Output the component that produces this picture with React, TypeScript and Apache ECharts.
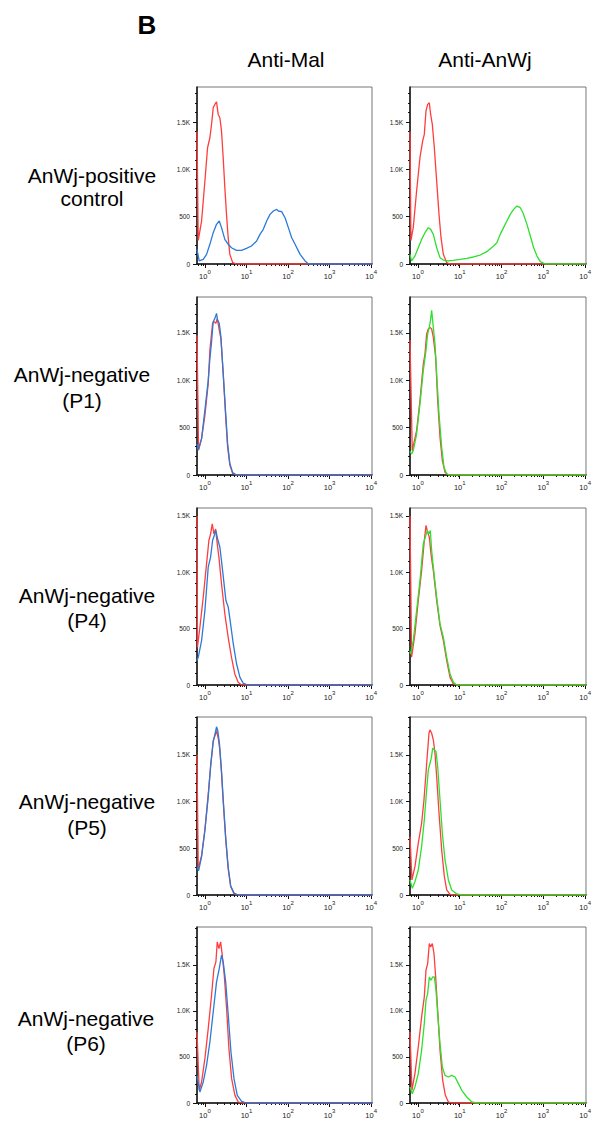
import React, { useEffect, useRef } from "react";
import * as echarts from "echarts";

// ---------- text ----------
const PANEL_LETTER = "B";
const COL_HEADERS = ["Anti-Mal", "Anti-AnWj"];
const ROW_LABELS = [
  ["AnWj-positive", "control"],
  ["AnWj-negative", "(P1)"],
  ["AnWj-negative", "(P4)"],
  ["AnWj-negative", "(P5)"],
  ["AnWj-negative", "(P6)"],
];

// ---------- axes ----------
const X_DECADES = [0, 1, 2, 3, 4]; // log10 of fluorescence intensity
const X_MIN = -0.19;
const X_MAX = 4.02;
const Y_TICKS = [0, 500, 1000, 1500];
const ROW_Y_MAX = [1870, 1880, 1570, 1905, 1910];

// ---------- data: [log10 intensity, count] ----------
// Row 1: AnWj-positive control
const r1MalIso = [[-0.19,1400],[-0.16,250],[-0.08,454],[0,876],[0.064,1228],[0.12,1334],[0.16,1475],[0.2,1650],[0.24,1686],[0.28,1714],[0.32,1580],[0.36,1545],[0.4,1404],[0.44,1123],[0.48,806],[0.52,524],[0.56,278],[0.6,102],[0.67,14],[0.76,0],[4.02,0]];
const r1MalStain = [[-0.19,155],[-0.137,32],[-0.04,49],[0.04,102],[0.12,208],[0.2,331],[0.28,419],[0.345,454],[0.4,384],[0.48,260],[0.56,208],[0.64,172],[0.76,144],[0.88,144],[1.0,165],[1.12,190],[1.245,243],[1.325,313],[1.405,366],[1.486,454],[1.566,524],[1.647,560],[1.727,577],[1.767,560],[1.847,553],[1.928,489],[2.008,384],[2.088,278],[2.169,208],[2.29,102],[2.41,32],[2.49,0],[4.02,0]];
const r1AnIso = [[-0.19,1400],[-0.168,250],[-0.112,384],[-0.032,771],[0.048,1123],[0.112,1299],[0.152,1369],[0.192,1616],[0.232,1686],[0.272,1704],[0.304,1580],[0.344,1475],[0.392,1228],[0.448,876],[0.504,524],[0.552,278],[0.608,102],[0.688,14],[0.768,0],[4.02,0]];
const r1AnStain = [[-0.19,102],[-0.152,32],[-0.072,84],[0.008,172],[0.088,260],[0.168,331],[0.248,384],[0.304,366],[0.368,313],[0.448,172],[0.528,67],[0.608,42],[0.728,32],[0.848,39],[1.008,49],[1.168,60],[1.328,74],[1.488,95],[1.648,130],[1.808,190],[1.888,225],[1.968,313],[2.048,384],[2.128,454],[2.208,524],[2.288,577],[2.368,612],[2.448,595],[2.512,542],[2.608,419],[2.688,296],[2.768,172],[2.848,84],[2.928,25],[3.048,0],[4.02,0]];

// Row 2: AnWj-negative (P1)
const r2MalIso = [[-0.19,1475],[-0.152,264],[-0.08,384],[0,630],[0.08,964],[0.12,1320],[0.185,1602],[0.225,1619],[0.265,1602],[0.297,1654],[0.345,1531],[0.385,1443],[0.44,1074],[0.5,616],[0.546,299],[0.6,106],[0.667,18],[0.763,0],[4.02,0]];
const r2MalStain = [[-0.19,330],[-0.16,264],[-0.08,384],[0,686],[0.08,1000],[0.12,1228],[0.16,1404],[0.2,1619],[0.24,1654],[0.28,1706],[0.305,1636],[0.345,1602],[0.385,1461],[0.44,1074],[0.5,651],[0.546,334],[0.6,123],[0.667,25],[0.763,0],[4.02,0]];
const r2AnIso = [[-0.19,1425],[-0.136,257],[-0.032,468],[0.048,785],[0.128,1172],[0.168,1278],[0.208,1489],[0.248,1542],[0.288,1559],[0.328,1542],[0.368,1454],[0.424,1243],[0.472,785],[0.528,398],[0.584,151],[0.648,28],[0.728,0],[4.02,0]];
const r2AnStain = [[-0.19,250],[-0.152,222],[-0.112,257],[-0.032,433],[0.048,750],[0.128,1102],[0.192,1313],[0.232,1489],[0.272,1559],[0.304,1647],[0.328,1740],[0.368,1559],[0.408,1383],[0.448,1067],[0.504,644],[0.568,292],[0.624,81],[0.688,11],[0.768,0],[4.02,0]];

// Row 3: AnWj-negative (P4)
const r3MalIso = [[-0.19,1500],[-0.18,334],[-0.12,512],[-0.04,778],[0.04,1074],[0.096,1282],[0.137,1341],[0.177,1430],[0.217,1341],[0.257,1385],[0.297,1252],[0.337,1134],[0.4,897],[0.48,630],[0.56,423],[0.64,246],[0.72,98],[0.8,24],[0.88,0],[4.02,0]];
const r3MalStain = [[-0.19,216],[-0.16,246],[-0.08,394],[0,660],[0.08,1045],[0.137,1134],[0.185,1282],[0.225,1326],[0.265,1370],[0.305,1297],[0.361,1222],[0.426,1015],[0.506,749],[0.562,690],[0.618,542],[0.683,364],[0.763,186],[0.843,68],[0.924,15],[1.044,0],[4.02,0]];
const r3AnIso = [[-0.19,1500],[-0.152,246],[-0.072,453],[0.008,749],[0.088,1015],[0.152,1282],[0.192,1415],[0.232,1356],[0.272,1311],[0.312,1163],[0.368,1015],[0.448,749],[0.528,527],[0.608,394],[0.688,216],[0.768,68],[0.848,9],[0.928,0],[4.02,0]];
const r3AnStain = [[-0.19,300],[-0.176,275],[-0.112,394],[-0.032,660],[0.048,926],[0.128,1252],[0.176,1311],[0.224,1370],[0.264,1341],[0.296,1370],[0.328,1193],[0.368,1045],[0.448,778],[0.528,542],[0.608,423],[0.688,246],[0.768,98],[0.848,24],[0.928,0],[4.02,0]];

// Row 4: AnWj-negative (P5)
const r4MalIso = [[-0.19,1500],[-0.16,280],[-0.08,420],[0,700],[0.08,1080],[0.14,1380],[0.2,1650],[0.24,1700],[0.28,1760],[0.32,1680],[0.36,1550],[0.4,1300],[0.44,1000],[0.5,600],[0.56,280],[0.62,90],[0.7,15],[0.8,0],[4.02,0]];
const r4MalStain = [[-0.19,300],[-0.15,260],[-0.08,410],[0,690],[0.08,1050],[0.14,1400],[0.2,1640],[0.24,1720],[0.28,1800],[0.31,1760],[0.35,1620],[0.4,1330],[0.44,1030],[0.5,620],[0.56,300],[0.62,100],[0.7,20],[0.8,0],[4.02,0]];
const r4AnIso = [[-0.19,625],[-0.144,161],[-0.072,303],[0.008,553],[0.088,768],[0.144,1017],[0.192,1303],[0.224,1500],[0.264,1731],[0.288,1767],[0.328,1731],[0.368,1660],[0.408,1517],[0.448,1267],[0.504,875],[0.568,482],[0.632,196],[0.688,54],[0.768,7],[0.848,0],[4.02,0]];
const r4AnStain = [[-0.19,161],[-0.136,71],[-0.072,143],[0.008,268],[0.088,518],[0.152,803],[0.208,1125],[0.248,1339],[0.288,1410],[0.32,1464],[0.352,1571],[0.392,1553],[0.432,1535],[0.472,1375],[0.528,1017],[0.584,660],[0.648,375],[0.728,161],[0.808,54],[0.928,11],[1.048,0],[4.02,0]];

// Row 5: AnWj-negative (P6)
const r5MalIso = [[-0.19,771],[-0.137,138],[-0.08,228],[0,481],[0.08,807],[0.16,1169],[0.217,1459],[0.265,1531],[0.297,1748],[0.337,1676],[0.378,1748],[0.418,1604],[0.466,1386],[0.522,1024],[0.578,590],[0.643,264],[0.723,83],[0.803,11],[0.884,0],[4.02,0]];
const r5MalStain = [[-0.19,300],[-0.12,119],[-0.04,228],[0.04,409],[0.12,662],[0.2,988],[0.28,1314],[0.345,1459],[0.4,1604],[0.44,1531],[0.5,1314],[0.562,952],[0.627,554],[0.7,264],[0.779,83],[0.884,18],[1.004,0],[4.02,0]];
const r5AnIso = [[-0.19,771],[-0.144,138],[-0.072,319],[0.008,608],[0.088,934],[0.152,1151],[0.192,1441],[0.232,1513],[0.272,1730],[0.304,1694],[0.344,1730],[0.384,1622],[0.424,1368],[0.472,1006],[0.528,572],[0.592,246],[0.656,83],[0.728,11],[0.808,0],[4.02,0]];
const r5AnStain = [[-0.19,174],[-0.136,101],[-0.072,174],[0.008,319],[0.088,572],[0.152,862],[0.192,1115],[0.232,1187],[0.272,1368],[0.312,1332],[0.352,1368],[0.392,1368],[0.432,1224],[0.472,970],[0.528,644],[0.584,391],[0.648,300],[0.728,282],[0.808,300],[0.888,282],[0.968,210],[1.048,138],[1.168,65],[1.288,11],[1.408,0],[4.02,0]];

const PANELS = [
  [[r1MalIso, r1MalStain], [r1AnIso, r1AnStain]],
  [[r2MalIso, r2MalStain], [r2AnIso, r2AnStain]],
  [[r3MalIso, r3MalStain], [r3AnIso, r3AnStain]],
  [[r4MalIso, r4MalStain], [r4AnIso, r4AnStain]],
  [[r5MalIso, r5MalStain], [r5AnIso, r5AnStain]],
];

// ---------- style / layout ----------
const ISO_COLOR = "#ff3d3d";
const STAIN_COLORS = ["#2a7ad8", "#2ee02e"];
const ROW_TOP = [87, 297, 508, 717, 927];
const ROW_H = [177, 178, 177, 178, 176];
const COL_LEFT = [197, 410];
const COL_W = [175, 176];
const LABEL_X = [92, 82, 87, 87, 86];
const LABEL_Y1 = [175, 374, 595, 801, 1018];
const LABEL_Y2 = [198, 400, 620, 827, 1043];
const FONT = "'Liberation Sans', Arial, Helvetica, sans-serif";

function minorXTicks(): number[] {
  const out: number[] = [];
  for (let d = -1; d < 4; d++) {
    for (let k = 2; k <= 9; k++) {
      const v = d + Math.log10(k);
      if (v > X_MIN && v < X_MAX) out.push(v);
    }
  }
  return out;
}

function minorYTicks(max: number): number[] {
  const out: number[] = [];
  for (let v = 100; v < max; v += 100) if (v % 500 !== 0) out.push(v);
  return out;
}

function fmtY(v: number): string {
  if (v === 0) return "0";
  if (v < 1000) return String(v);
  return (v / 1000).toFixed(1) + "K";
}

export default function App() {
  const ref = useRef<HTMLDivElement>(null);
  useEffect(() => {
    if (!ref.current) return;
    const chart = echarts.init(ref.current, undefined, { renderer: "svg" });
    const grid: any[] = [];
    const xAxis: any[] = [];
    const yAxis: any[] = [];
    const series: any[] = [];
    const xMinor = minorXTicks();
    let gi = 0;
    for (let r = 0; r < 5; r++) {
      for (let c = 0; c < 2; c++) {
        grid.push({
          left: COL_LEFT[c], top: ROW_TOP[r], width: COL_W[c], height: ROW_H[r],
          show: true, borderColor: "#777", borderWidth: 1, backgroundColor: "transparent",
        });
        // major x axis with labels
        xAxis.push({
          type: "value", gridIndex: gi, min: X_MIN, max: X_MAX, position: "bottom",
          axisLine: { show: true, onZero: false, lineStyle: { color: "#111", width: 1.5 } },
          axisTick: { show: true, length: 4, customValues: X_DECADES, lineStyle: { color: "#111", width: 1 } },
          axisLabel: {
            show: true, customValues: X_DECADES, margin: 5,
            formatter: (v: number) => `{b|10}{s|${Math.round(v)}}`,
            rich: {
              b: { fontSize: 7.5, fontFamily: FONT, color: "#222", verticalAlign: "bottom", lineHeight: 11 },
              s: { fontSize: 6, fontFamily: FONT, color: "#222", verticalAlign: "top", lineHeight: 11 },
            },
          },
          splitLine: { show: false },
        });
        // minor x ticks (log spacing)
        xAxis.push({
          type: "value", gridIndex: gi, min: X_MIN, max: X_MAX, position: "bottom",
          axisLine: { show: false, onZero: false },
          axisTick: { show: true, length: 2, customValues: xMinor, lineStyle: { color: "#111", width: 1 } },
          axisLabel: { show: false },
          splitLine: { show: false },
        });
        const ymax = ROW_Y_MAX[r];
        yAxis.push({
          type: "value", gridIndex: gi, min: 0, max: ymax, position: "left",
          axisLine: { show: true, onZero: false, lineStyle: { color: "#111", width: 1.5 } },
          axisTick: { show: true, length: 4, customValues: Y_TICKS, lineStyle: { color: "#111", width: 1 } },
          axisLabel: {
            show: true, customValues: Y_TICKS, margin: 7, formatter: fmtY,
            fontSize: 6.5, fontFamily: FONT, color: "#222",
          },
          splitLine: { show: false },
        });
        yAxis.push({
          type: "value", gridIndex: gi, min: 0, max: ymax, position: "left",
          axisLine: { show: false, onZero: false },
          axisTick: { show: true, length: 2, customValues: minorYTicks(ymax), lineStyle: { color: "#111", width: 1 } },
          axisLabel: { show: false },
          splitLine: { show: false },
        });
        const [iso, stain] = PANELS[r][c];
        series.push({
          type: "line", xAxisIndex: gi * 2, yAxisIndex: gi * 2, data: iso,
          showSymbol: false, lineStyle: { color: ISO_COLOR, width: 1.3 }, z: 3,
        });
        series.push({
          type: "line", xAxisIndex: gi * 2, yAxisIndex: gi * 2, data: stain,
          showSymbol: false, lineStyle: { color: STAIN_COLORS[c], width: 1.3 }, z: 4,
        });
        gi++;
      }
    }
    const graphic: any[] = [];
    graphic.push({
      type: "text", x: 147, y: 25,
      style: { text: PANEL_LETTER, font: `bold 26px ${FONT}`, fill: "#000", textAlign: "center", textVerticalAlign: "middle" },
    });
    const headerX = [286, 485];
    COL_HEADERS.forEach((h, i) => {
      graphic.push({
        type: "text", x: headerX[i], y: 59,
        style: { text: h, font: `21px ${FONT}`, fill: "#000", textAlign: "center", textVerticalAlign: "middle" },
      });
    });
    ROW_LABELS.forEach((lab, r) => {
      graphic.push({
        type: "text", x: LABEL_X[r], y: LABEL_Y1[r],
        style: { text: lab[0], font: `21px ${FONT}`, fill: "#000", textAlign: "center", textVerticalAlign: "middle" },
      });
      graphic.push({
        type: "text", x: LABEL_X[r], y: LABEL_Y2[r],
        style: { text: lab[1], font: `21px ${FONT}`, fill: "#000", textAlign: "center", textVerticalAlign: "middle" },
      });
    });
    chart.setOption({
      animation: false,
      backgroundColor: "#fff",
      grid, xAxis, yAxis, series, graphic,
    });
    return () => chart.dispose();
  }, []);
  return (
    <div
      ref={ref}
      style={{ position: "absolute", left: 0, top: 0, width: 594, height: 1124 }}
    />
  );
}
